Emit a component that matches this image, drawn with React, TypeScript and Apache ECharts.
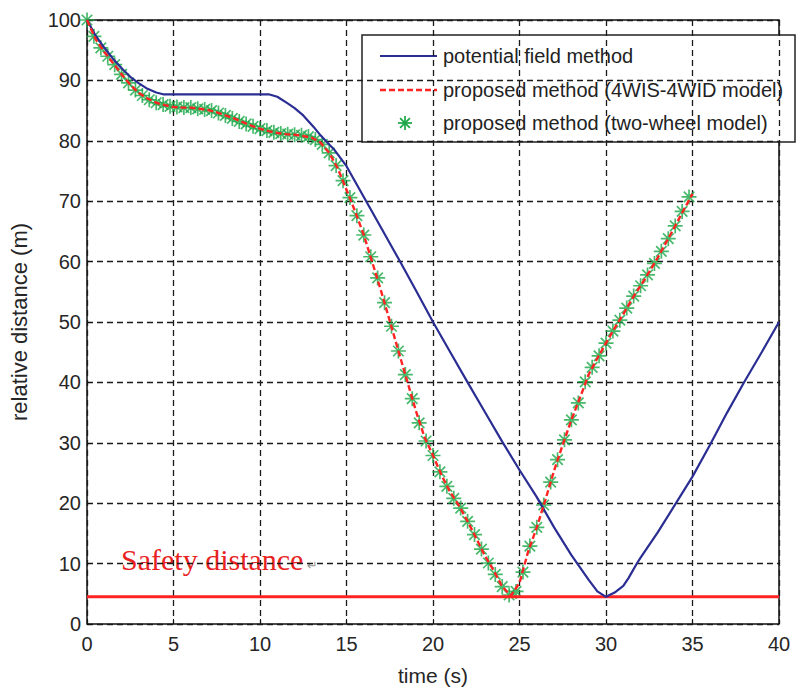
import React, { useEffect, useRef } from "react";
import * as echarts from "echarts";

// potential field method
const blueTime = [0, 0.5, 1, 1.5, 2, 2.5, 3, 3.5, 4, 4.4, 10.5, 11, 11.6, 12, 12.5, 13.1, 13.5, 14, 14.3, 15, 16, 17, 18, 19, 20, 21, 22, 23, 24, 25, 26, 27, 28, 29, 29.5, 30, 30.5, 31, 31.3, 31.8, 32, 33, 34, 35, 36, 37, 38, 39, 40];
const blueDist = [100, 97.4, 95.4, 93.6, 92.0, 90.6, 89.5, 88.6, 88.0, 87.7, 87.7, 87.3, 86.2, 85.4, 84.2, 82.3, 80.9, 79.4, 78.5, 75.8, 70.7, 65.6, 60.5, 55.3, 50.0, 45.0, 40.0, 35.1, 30.2, 25.5, 21.0, 16.0, 11.4, 7.3, 5.4, 4.5, 5.2, 6.3, 7.6, 10.1, 11.0, 15.2, 19.8, 24.4, 29.6, 35.0, 40.1, 45.0, 50.0];

// proposed method (4WIS-4WID model)
const redTime = [0, 0.5, 1, 1.5, 2, 2.5, 3, 3.5, 4, 4.5, 5, 5.5, 6, 6.5, 7, 7.5, 8, 8.5, 9, 9.5, 10, 10.5, 11, 11.5, 12, 12.5, 13, 13.5, 14, 14.5, 15, 15.5, 16, 16.5, 17, 17.5, 18, 18.5, 19, 19.5, 20, 20.5, 21, 21.5, 22, 22.5, 23, 23.5, 24, 24.5, 25, 25.5, 26, 26.5, 27, 27.5, 28, 28.5, 29, 29.5, 30, 30.5, 31, 31.5, 32, 32.5, 33, 33.5, 34, 34.5, 35];
const redDist = [100, 96.8, 94.7, 92.9, 91.0, 89.3, 87.9, 87.0, 86.3, 85.9, 85.6, 85.5, 85.5, 85.3, 85.1, 84.7, 84.2, 83.7, 83.1, 82.5, 82.0, 81.6, 81.3, 81.1, 81.0, 80.8, 80.5, 79.7, 78.0, 75.4, 71.9, 68.3, 64.4, 59.8, 55.1, 50.2, 45.2, 40.3, 35.4, 31.0, 27.9, 24.6, 21.8, 19.6, 17.0, 14.2, 11.3, 8.9, 6.2, 4.7, 6.8, 12.0, 16.0, 20.6, 25.4, 29.7, 33.8, 37.5, 41.3, 44.0, 46.5, 49.0, 51.3, 53.8, 56.0, 58.3, 60.7, 63.3, 65.9, 68.6, 71.2];

// proposed method (two-wheel model)
const greenTime = [0, 0.4, 0.8, 1.2, 1.6, 2.0, 2.4, 2.8, 3.2, 3.6, 4.0, 4.4, 4.8, 5.2, 5.6, 6.0, 6.4, 6.8, 7.2, 7.6, 8.0, 8.4, 8.8, 9.2, 9.6, 10.0, 10.4, 10.8, 11.2, 11.6, 12.0, 12.4, 12.8, 13.2, 13.6, 14.0, 14.4, 14.8, 15.2, 15.6, 16.0, 16.4, 16.8, 17.2, 17.6, 18.0, 18.4, 18.8, 19.2, 19.6, 20.0, 20.4, 20.8, 21.2, 21.6, 22.0, 22.4, 22.8, 23.2, 23.6, 24.0, 24.4, 24.8, 25.2, 25.6, 26.0, 26.4, 26.8, 27.2, 27.6, 28.0, 28.4, 28.8, 29.2, 29.6, 30.0, 30.4, 30.8, 31.2, 31.6, 32.0, 32.4, 32.8, 33.2, 33.6, 34.0, 34.4, 34.8];
const greenDist = [100, 97.3, 95.4, 94.0, 92.6, 91.0, 89.6, 88.4, 87.5, 86.8, 86.3, 86.0, 85.7, 85.6, 85.5, 85.5, 85.3, 85.2, 85.0, 84.6, 84.2, 83.7, 83.2, 82.8, 82.4, 82.0, 81.7, 81.4, 81.2, 81.1, 81.0, 80.9, 80.7, 80.2, 79.4, 78.0, 75.9, 73.4, 70.6, 67.6, 64.4, 60.8, 57.3, 53.2, 49.3, 45.2, 41.3, 37.3, 33.3, 30.3, 27.9, 25.2, 22.8, 20.8, 19.2, 17.0, 14.8, 12.4, 10.1, 8.2, 6.2, 4.8, 5.4, 8.6, 12.9, 16.0, 19.7, 23.5, 27.2, 30.5, 33.8, 36.6, 40.1, 42.5, 44.4, 46.5, 48.5, 50.3, 52.3, 54.3, 56.0, 57.8, 59.7, 61.7, 63.8, 65.9, 68.3, 70.7];

// safety distance
const safetyTime = [0, 40];
const safetyDist = [4.5, 4.5];

const legendNames = [
  "potential field method",
  "proposed method (4WIS-4WID model)",
  "proposed method (two-wheel model)",
];

const zip = (a: number[], b: number[]) => a.map((v, i) => [v, b[i]]);

const BLUE = "#2a2d92";
const RED = "#ff2323";
const GREEN = "#19a746";
const SANS = "'Liberation Sans', Arial, sans-serif";

const starPath = "path://M6,0L6,12M0,6L12,6M1.8,1.8L10.2,10.2M1.8,10.2L10.2,1.8";

export default function App() {
  const ref = useRef<HTMLDivElement>(null);
  useEffect(() => {
    if (!ref.current) return;
    const chart = echarts.init(ref.current, null, { renderer: "svg" });
    const axisText = { color: "#262626", fontSize: 20, fontFamily: SANS };
    const split = { show: true, lineStyle: { color: "#1a1a1a", type: [6, 4], width: 1.3 } };
    const starLines = (cx: number, cy: number) => {
      const r = 7;
      const d = 4.9;
      const segs = [
        [0, -r, 0, r],
        [-r, 0, r, 0],
        [-d, -d, d, d],
        [-d, d, d, -d],
      ];
      return segs.map((s) => ({
        type: "line",
        shape: { x1: cx + s[0], y1: cy + s[1], x2: cx + s[2], y2: cy + s[3] },
        style: { stroke: GREEN, lineWidth: 1.7 },
      }));
    };
    chart.setOption({
      animation: false,
      backgroundColor: "#ffffff",
      grid: {
        left: 86,
        right: 17,
        top: 20,
        bottom: 68,
        show: true,
        borderColor: "#111",
        borderWidth: 1.5,
        backgroundColor: "transparent",
      },
      xAxis: {
        type: "value",
        min: 0,
        max: 40,
        interval: 5,
        name: "time (s)",
        nameLocation: "middle",
        nameGap: 41,
        nameTextStyle: { color: "#262626", fontSize: 21, fontFamily: SANS },
        axisLine: { show: false },
        axisTick: { show: true, inside: true, length: 5, lineStyle: { color: "#111" } },
        axisLabel: { ...axisText, margin: 10 },
        splitLine: split,
      },
      yAxis: {
        type: "value",
        min: 0,
        max: 100,
        interval: 10,
        name: "relative distance (m)",
        nameLocation: "middle",
        nameRotate: 90,
        nameGap: 57,
        nameTextStyle: { color: "#262626", fontSize: 22, fontFamily: SANS },
        axisLine: { show: false },
        axisTick: { show: true, inside: true, length: 5, lineStyle: { color: "#111" } },
        axisLabel: { ...axisText, margin: 6 },
        splitLine: split,
      },
      series: [
        {
          name: "Safety distance",
          type: "line",
          data: zip(safetyTime, safetyDist),
          showSymbol: false,
          symbol: "none",
          lineStyle: { color: RED, width: 3 },
          silent: true,
        },
        {
          name: legendNames[0],
          type: "line",
          data: zip(blueTime, blueDist),
          symbol: "none",
          lineStyle: { color: BLUE, width: 2.2 },
        },
        {
          name: legendNames[2],
          type: "scatter",
          data: zip(greenTime, greenDist),
          symbol: starPath,
          symbolSize: 15,
          itemStyle: { color: "transparent", borderColor: GREEN, borderWidth: 1.7 },
        },
        {
          name: legendNames[1],
          type: "line",
          data: zip(redTime, redDist),
          symbol: "none",
          lineStyle: { color: RED, width: 2.4, type: [6, 3] },
        },
      ],
      graphic: [
        {
          type: "text",
          left: 121,
          top: 544,
          style: {
            text: "Safety distance",
            fill: "#e8231f",
            font: "30px 'Liberation Serif', 'Times New Roman', serif",
          },
        },
        {
          type: "text",
          left: 307,
          top: 559,
          style: { text: "↵", fill: "#999", font: "13px 'DejaVu Sans', sans-serif" },
        },
        {
          type: "group",
          children: [
            {
              type: "rect",
              shape: { x: 362, y: 35, width: 433, height: 107 },
              style: { fill: "#ffffff", stroke: "#222", lineWidth: 1.5 },
            },
            {
              type: "line",
              shape: { x1: 380, y1: 56, x2: 437, y2: 56 },
              style: { stroke: BLUE, lineWidth: 2.2 },
            },
            {
              type: "line",
              shape: { x1: 380, y1: 90, x2: 437, y2: 90 },
              style: { stroke: RED, lineWidth: 2.4, lineDash: [6, 3] },
            },
            ...starLines(405, 123),
            {
              type: "text",
              x: 443,
              y: 56,
              style: { text: legendNames[0], fill: "#222", font: `20px ${SANS}`, verticalAlign: "middle" },
            },
            {
              type: "text",
              x: 443,
              y: 90,
              style: { text: legendNames[1], fill: "#222", font: `20px ${SANS}`, verticalAlign: "middle" },
            },
            {
              type: "text",
              x: 443,
              y: 123,
              style: { text: legendNames[2], fill: "#222", font: `20px ${SANS}`, verticalAlign: "middle" },
            },
          ],
        },
      ],
    });
    return () => chart.dispose();
  }, []);
  return (
    <div
      ref={ref}
      style={{ position: "fixed", left: 0, top: 0, width: 796, height: 692, background: "#fff" }}
    />
  );
}
